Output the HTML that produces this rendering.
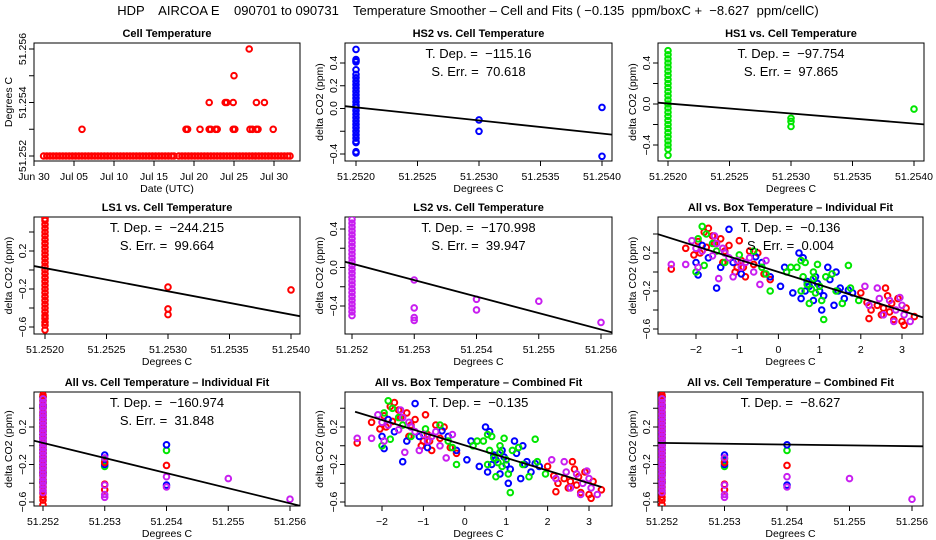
<!DOCTYPE html>
<html><head><meta charset="utf-8"><style>
html,body{margin:0;padding:0;background:#fff}
svg{display:block;font-family:"Liberation Sans",sans-serif}
svg text{white-space:pre}
</style></head><body>
<svg id="chart" width="936" height="540" viewBox="0 0 936 540" xmlns="http://www.w3.org/2000/svg" xml:space="preserve">
<rect width="936" height="540" fill="#fff"/>
<text x="468" y="15" text-anchor="middle" font-size="13">HDP    AIRCOA E    090701 to 090731    Temperature Smoother – Cell and Fits ( −0.135  ppm/boxC +  −8.627  ppm/cellC)</text>
</svg>
<script>
// ---- data ----
var cellBaseDays = [1.2,1.6,2.0,2.4,2.8,3.2,3.6,4.0,4.4,4.8,5.2,5.6,6.0,6.4,6.8,7.2,7.6,8.0,8.4,8.8,9.2,9.6,10.0,10.4,10.8,11.2,11.6,12.0,12.4,12.8,13.2,13.6,14.0,14.4,14.8,15.2,15.6,16.0,16.4,16.8,17.2,17.5,18.1,18.5,18.9,19.3,19.7,20.1,20.5,20.9,21.3,21.7,22.1,22.5,22.9,23.3,23.7,24.1,24.5,24.9,25.3,25.7,26.1,26.5,26.9,27.3,27.7,28.1,28.5,28.9,29.3,29.7,30.1,30.5,30.9,31.3,31.7,32.0];
var cellHighDays = [6.0,19.0,19.2,20.75,21.9,22.1,22.7,22.9,24.9,25.1,27.0,27.3,27.8,28.0,29.9,21.9,23.9,24.1,24.9,27.8,28.8,25.0,26.9];
var cellHighVals = [51.253,51.253,51.253,51.253,51.253,51.253,51.253,51.253,51.253,51.253,51.253,51.253,51.253,51.253,51.253,51.254,51.254,51.254,51.254,51.254,51.254,51.255,51.256];

var hs2Col = [0.52,0.43,0.42,0.41,0.34,0.30,0.27,0.24,0.21,0.18,0.15,0.12,0.09,0.06,0.03,0.01,-0.02,-0.05,-0.08,-0.11,-0.14,-0.17,-0.20,-0.23,-0.26,-0.29,-0.30,-0.38,-0.39];
var hs2X = [51.253,51.253,51.254,51.254];
var hs2Y = [-0.10,-0.20,0.01,-0.42];
var hs1Col = [0.52,0.48,0.44,0.40,0.36,0.32,0.28,0.24,0.20,0.16,0.12,0.08,0.04,0.00,-0.04,-0.08,-0.12,-0.16,-0.20,-0.24,-0.28,-0.32,-0.36,-0.40,-0.44,-0.50];
var hs1X = [51.253,51.253,51.253,51.254];
var hs1Y = [-0.14,-0.17,-0.22,-0.05];
var ls1Col = [0.54,0.52,0.48,0.44,0.40,0.36,0.32,0.28,0.24,0.20,0.16,0.12,0.08,0.04,0.00,-0.04,-0.08,-0.12,-0.16,-0.20,-0.24,-0.28,-0.32,-0.36,-0.40,-0.44,-0.48,-0.51,-0.55,-0.58,-0.63];
var ls1X = [51.253,51.253,51.253,51.254];
var ls1Y = [-0.18,-0.41,-0.47,-0.21];
var ls2Col = [0.50,0.46,0.42,0.38,0.34,0.30,0.26,0.22,0.18,0.14,0.10,0.06,0.02,-0.02,-0.06,-0.10,-0.14,-0.18,-0.22,-0.26,-0.30,-0.34,-0.38,-0.42,-0.46,-0.50];
var ls2X = [51.253,51.253,51.253,51.253,51.254,51.254,51.255,51.256];
var ls2Y = [-0.13,-0.42,-0.52,-0.55,-0.33,-0.44,-0.35,-0.57];

var boxRedX = [-2.6,-2.25,-2.05,-1.95,-1.8,-1.7,-1.6,-1.55,-1.4,-1.3,-1.2,-1.05,-0.95,-0.9,-0.85,-0.8,-0.7,-0.6,-0.5,-0.35,-0.2,2.0,2.15,2.2,2.25,2.4,2.5,2.6,2.65,2.7,2.75,2.8,2.9,3.0,3.05,3.1,3.3,2.55,-1.0,-1.35,-1.75,-1.9];
var boxRedY = [0.03,0.25,0.18,0.32,0.42,0.46,0.38,0.30,0.35,0.22,0.28,0.0,0.33,0.12,0.05,-0.05,0.22,0.08,0.20,-0.02,-0.08,-0.22,-0.32,-0.49,-0.40,-0.35,-0.45,-0.17,-0.25,-0.42,-0.33,-0.50,-0.28,-0.52,-0.56,-0.38,-0.47,-0.38,0.05,0.10,0.26,0.20];
var boxBlueX = [-1.95,-2.0,-1.85,-1.7,-1.5,-1.4,-1.3,-1.2,-1.1,-0.9,-0.55,-0.4,-0.2,0.05,0.15,0.35,0.5,0.55,0.6,0.7,0.75,0.85,0.9,1.0,1.1,1.2,1.25,1.35,1.45,1.5,1.6,1.7,1.8,1.4,0.95,0.65,1.05];
var boxBlueY = [-0.03,0.10,0.28,0.15,-0.17,0.05,0.20,0.45,0.10,-0.02,0.16,0.10,-0.05,-0.15,0.05,-0.22,0.20,-0.28,0.15,-0.10,-0.15,-0.30,-0.05,-0.20,-0.25,0.05,-0.08,-0.35,-0.20,-0.17,-0.28,-0.19,-0.22,0.0,-0.12,-0.20,-0.40];
var boxGreenX = [-2.0,-1.95,-1.85,-1.75,-1.6,-1.8,-1.3,-0.6,-0.4,-0.3,-0.2,0.2,0.3,0.45,0.55,0.6,0.65,0.7,0.75,0.8,0.85,0.9,0.95,1.0,1.05,1.1,1.15,1.3,1.4,1.55,1.7,1.75,1.95,0.55,0.85,-0.95,-1.5];
var boxGreenY = [0.0,0.35,0.48,0.40,0.30,0.07,0.10,0.22,0.05,-0.02,-0.20,0.0,0.05,0.05,0.12,-0.05,0.10,-0.13,-0.33,-0.18,-0.07,-0.22,0.08,-0.15,-0.30,-0.50,-0.05,-0.02,-0.20,-0.33,0.07,-0.17,-0.30,-0.20,0.0,0.18,0.22];
var boxMagX = [-2.6,-2.25,-2.1,-2.0,-1.85,-1.6,-1.5,-1.45,-1.35,-1.3,-1.2,-1.1,-1.0,-0.9,-0.8,-0.7,-0.6,-0.45,-0.3,-1.55,2.1,2.2,2.4,2.45,2.55,2.7,2.85,2.95,3.0,3.05,3.2,2.8,-1.95];
var boxMagY = [0.08,0.08,0.33,0.25,0.22,0.17,0.30,-0.07,0.25,0.20,0.15,-0.05,0.12,0.05,0.10,0.15,0.0,-0.13,0.12,0.38,-0.15,-0.35,-0.17,-0.28,-0.45,-0.30,-0.40,-0.27,-0.35,-0.45,-0.52,-0.52,0.05];

var fitSlopes = [-115.16,-97.754,-244.215,-170.998,-0.136,-160.974,-0.135,-8.627];
var fitAtRef = [0.01,0.005,0.02,0.04,0.0,0.03,0.005,0.03];

var RED='#ff0000',BLUE='#0000ff',GREEN='#00e600',MAG='#c81ef0';
var NS='http://www.w3.org/2000/svg';
var svg=document.getElementById('chart');
function el(tag,attrs,parent){var e=document.createElementNS(NS,tag);for(var k in attrs)e.setAttribute(k,attrs[k]);(parent||svg).appendChild(e);return e;}
function lin(v1,p1,v2,p2){return function(v){return p1+(v-v1)*(p2-p1)/(v2-v1);};}
function fmt(v,d){var s=Math.abs(v).toFixed(d);return (v<0?'−':'')+s;}

var panels=[
 {name:'cell-temperature',title:'Cell Temperature',box:[34,43,300,161],xs:lin(0,34,30,274),ys:lin(51.252,156,51.256,49),
  xt:[0,5,10,15,20,25,30],xl:['Jun 30','Jul 05','Jul 10','Jul 15','Jul 20','Jul 25','Jul 30'],
  yt:[51.252,51.253,51.254,51.255,51.256],yl:['51.252','','51.254','','51.256'],xlab:'Date (UTC)',ylab:'Degrees C'},
 {name:'hs2-vs-cell',title:'HS2 vs. Cell Temperature',box:[345,43,612,161],xs:lin(51.252,356,51.254,602),ys:lin(0.4,63,-0.4,154),
  xt:[51.252,51.2525,51.253,51.2535,51.254],xd:4,yt:[-0.4,-0.2,0,0.2,0.4],yl:['−0.4','','0.0','0.2','0.4'],ref:51.252,
  t1:'T. Dep. =  −115.16',t2:'S. Err. =  70.618',fit:0},
 {name:'hs1-vs-cell',title:'HS1 vs. Cell Temperature',box:[658,43,924,161],xs:lin(51.252,668,51.254,914),ys:lin(0.4,63,-0.4,145),
  xt:[51.252,51.2525,51.253,51.2535,51.254],xd:4,yt:[-0.4,-0.2,0,0.2,0.4],yl:['−0.4','','0.0','','0.4'],ref:51.252,
  t1:'T. Dep. =  −97.754',t2:'S. Err. =  97.865',fit:1},
 {name:'ls1-vs-cell',title:'LS1 vs. Cell Temperature',box:[34,217,300,334],xs:lin(51.252,45,51.254,291),ys:lin(0.2,251,-0.6,327),
  xt:[51.252,51.2525,51.253,51.2535,51.254],xd:4,yt:[-0.6,-0.4,-0.2,0,0.2,0.4],yl:['−0.6','','−0.2','','0.2',''],ref:51.252,
  t1:'T. Dep. =  −244.215',t2:'S. Err. =  99.664',fit:2},
 {name:'ls2-vs-cell',title:'LS2 vs. Cell Temperature',box:[345,217,612,334],xs:lin(51.252,352,51.256,601),ys:lin(0.4,229,-0.4,306),
  xt:[51.252,51.253,51.254,51.255,51.256],xd:3,yt:[-0.4,-0.2,0,0.2,0.4],yl:['−0.4','','0.0','','0.4'],ref:51.252,
  t1:'T. Dep. =  −170.998',t2:'S. Err. =  39.947',fit:3},
 {name:'all-vs-box-individual',title:'All vs. Box Temperature – Individual Fit',box:[658,217,923,334],xs:lin(-2,696,3,902),ys:lin(0.2,253,-0.6,329),
  xt:[-2,-1,0,1,2,3],xd:0,yt:[-0.6,-0.4,-0.2,0,0.2,0.4],yl:['−0.6','','−0.2','','0.2',''],ref:0,
  t1:'T. Dep. =  −0.136',t2:'S. Err. =  0.004',fit:4},
 {name:'all-vs-cell-individual',title:'All vs. Cell Temperature – Individual Fit',box:[34,392,300,506],xs:lin(51.252,43,51.256,290),ys:lin(0.2,427,-0.6,502),
  xt:[51.252,51.253,51.254,51.255,51.256],xd:3,yt:[-0.6,-0.4,-0.2,0,0.2,0.4],yl:['−0.6','','−0.2','','0.2',''],ref:51.252,
  t1:'T. Dep. =  −160.974',t2:'S. Err. =  31.848',fit:5},
 {name:'all-vs-box-combined',title:'All vs. Box Temperature – Combined Fit',box:[345,392,612,506],xs:lin(-2,382,3,589),ys:lin(0.2,427,-0.6,502),
  xt:[-2,-1,0,1,2,3],xd:0,yt:[-0.6,-0.4,-0.2,0,0.2,0.4],yl:['−0.6','','−0.2','','0.2',''],ref:0,
  t1:'T. Dep. =  −0.135',fit:6,seg:[-2.65,3.3]},
 {name:'all-vs-cell-combined',title:'All vs. Cell Temperature – Combined Fit',box:[658,392,923,506],xs:lin(51.252,662,51.256,912),ys:lin(0.2,427,-0.6,502),
  xt:[51.252,51.253,51.254,51.255,51.256],xd:3,yt:[-0.6,-0.4,-0.2,0,0.2,0.4],yl:['−0.6','','−0.2','','0.2',''],ref:51.252,
  t1:'T. Dep. =  −8.627',fit:7}
];

function pt(g,p,x,y,c,nm){
  var e=el('circle',{cx:p.xs(x).toFixed(1),cy:p.ys(y).toFixed(1),r:2.8,fill:'none',stroke:c,'stroke-width':2},g);
  
  
}
function col(g,p,vals,c,nm){for(var i=0;i<vals.length;i++)pt(g,p,51.252,vals[i],c,nm);}
function xy(g,p,xs,ys,c,nm){for(var i=0;i<xs.length;i++)pt(g,p,xs[i],ys[i],c,nm);}

panels.forEach(function(p,idx){
  var g=el('g',{});
  
  
  var b=p.box,cx=(b[0]+b[2])/2;
  var clip=el('clipPath',{id:'c'+idx},g);el('rect',{x:b[0],y:b[1],width:b[2]-b[0],height:b[3]-b[1]},clip);
  var t=el('text',{x:cx,y:b[1]-6,'text-anchor':'middle','font-size':'11','font-weight':'bold'},g);t.textContent=p.title;
  
  
  var x0=p.xs(p.xt[0]),x1=p.xs(p.xt[p.xt.length-1]);
  el('line',{x1:x0,y1:b[3],x2:x1,y2:b[3],stroke:'#000'},g);
  p.xt.forEach(function(v,i){var X=p.xs(v);el('line',{x1:X,y1:b[3],x2:X,y2:b[3]+5,stroke:'#000'},g);
    var tx=el('text',{x:X,y:b[3]+19,'text-anchor':'middle','font-size':'10.5'},g);
    tx.textContent=p.xl?p.xl[i]:(p.xd===0?fmt(v,0).replace('−0','0'):fmt(v,p.xd));
    
    });
  var xl=el('text',{x:cx,y:b[3]+31,'text-anchor':'middle','font-size':'10.5'},g);xl.textContent=p.xlab||'Degrees C';
  
  
  var y0=p.ys(p.yt[0]),y1=p.ys(p.yt[p.yt.length-1]);
  el('line',{x1:b[0],y1:y0,x2:b[0],y2:y1,stroke:'#000'},g);
  p.yt.forEach(function(v,i){var Y=p.ys(v);el('line',{x1:b[0]-5,y1:Y,x2:b[0],y2:Y,stroke:'#000'},g);
    if(p.yl[i]){var ty=el('text',{x:0,y:0,'text-anchor':'middle','font-size':'10.5',transform:'translate('+(b[0]-8)+','+Y+') rotate(-90)'},g);ty.textContent=p.yl[i];
    
    }});
  var yl=el('text',{x:0,y:0,'text-anchor':'middle','font-size':'10.5',transform:'translate('+(b[0]-22)+','+((b[1]+b[3])/2)+') rotate(-90)'},g);yl.textContent=p.ylab||'delta CO2 (ppm)';
  
  
  el('rect',{x:b[0],y:b[1],width:b[2]-b[0],height:b[3]-b[1],fill:'none',stroke:'#000'},g);
  var d=el('g',{'clip-path':'url(#c'+idx+')'},g);
  if(idx===0){
    cellBaseDays.forEach(function(v){pt(d,p,v,51.252,RED,'cell-temp-point');});
    cellHighDays.forEach(function(v,i){pt(d,p,v,cellHighVals[i],RED,'cell-temp-point');});
  } else if(idx===1){col(d,p,hs2Col,BLUE,'hs2-point');xy(d,p,hs2X,hs2Y,BLUE,'hs2-point');}
  else if(idx===2){col(d,p,hs1Col,GREEN,'hs1-point');xy(d,p,hs1X,hs1Y,GREEN,'hs1-point');}
  else if(idx===3){col(d,p,ls1Col,RED,'ls1-point');xy(d,p,ls1X,ls1Y,RED,'ls1-point');}
  else if(idx===4){col(d,p,ls2Col,MAG,'ls2-point');xy(d,p,ls2X,ls2Y,MAG,'ls2-point');}
  else if(idx===5||idx===7){
    xy(d,p,boxRedX,boxRedY,RED,'ls1-point');xy(d,p,boxBlueX,boxBlueY,BLUE,'hs2-point');
    xy(d,p,boxGreenX,boxGreenY,GREEN,'hs1-point');xy(d,p,boxMagX,boxMagY,MAG,'ls2-point');
  } else {
    col(d,p,hs1Col,GREEN,'hs1-point');col(d,p,hs2Col,BLUE,'hs2-point');col(d,p,ls1Col,RED,'ls1-point');col(d,p,ls2Col,MAG,'ls2-point');
    xy(d,p,hs1X,hs1Y,GREEN,'hs1-point');xy(d,p,hs2X,hs2Y,BLUE,'hs2-point');xy(d,p,ls1X,ls1Y,RED,'ls1-point');xy(d,p,ls2X,ls2Y,MAG,'ls2-point');
  }
  if(p.fit!==undefined){
    var s=fitSlopes[p.fit],a=fitAtRef[p.fit];
    var xa,xb;
    if(p.seg){xa=p.seg[0];xb=p.seg[1];}
    else{var xinv=function(px){var u=p.xt[0],w=p.xt[p.xt.length-1];return u+(px-p.xs(u))*(w-u)/(p.xs(w)-p.xs(u));};xa=xinv(b[0]);xb=xinv(b[2]);}
    var ln=el('line',{x1:p.xs(xa),y1:p.ys(a+s*(xa-p.ref)),x2:p.xs(xb),y2:p.ys(a+s*(xb-p.ref)),stroke:'#000','stroke-width':1.8},d);
    
    
  }
  if(p.t1){var a1=el('text',{x:cx,y:b[1]+15,'text-anchor':'middle','font-size':'13'},g);a1.textContent=p.t1;
    
    }
  if(p.t2){var a2=el('text',{x:cx,y:b[1]+33,'text-anchor':'middle','font-size':'13'},g);a2.textContent=p.t2;
    
    }
});
</script>
</body></html>
